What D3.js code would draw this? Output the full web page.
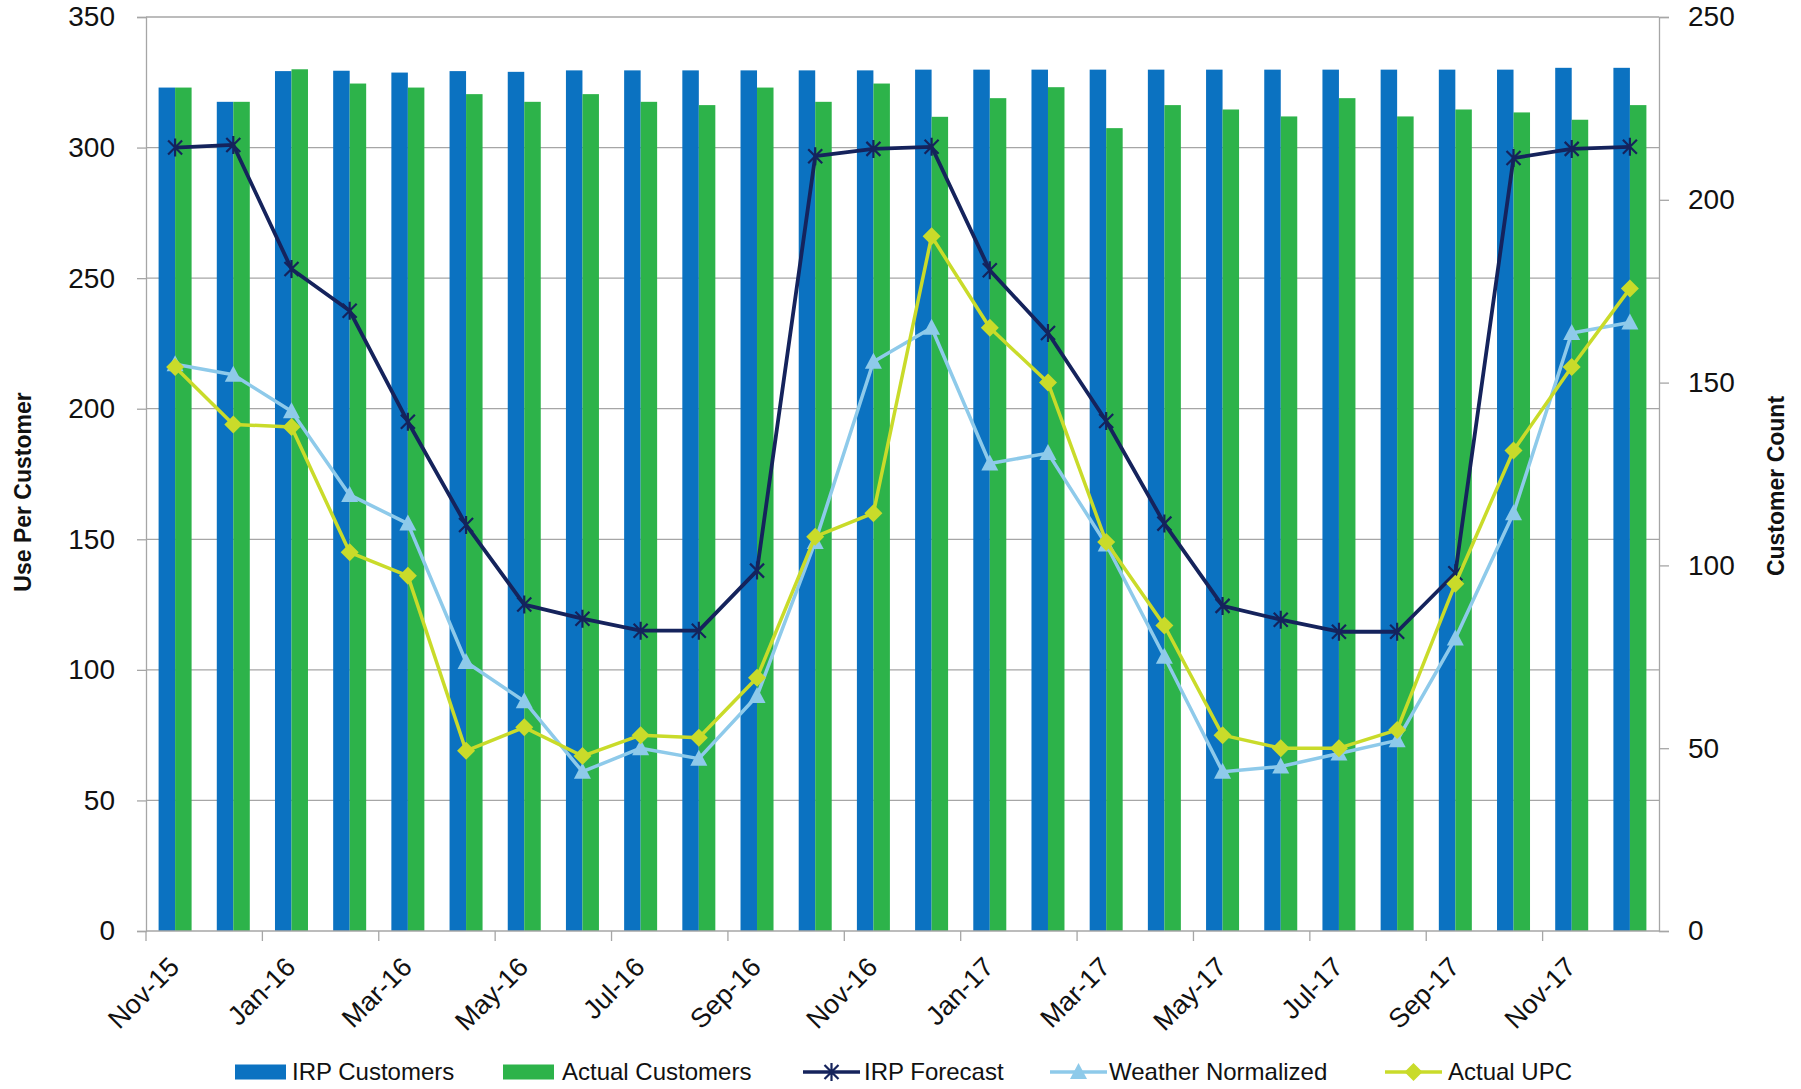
<!DOCTYPE html>
<html>
<head>
<meta charset="utf-8">
<script src="https://cdn.jsdelivr.net/npm/d3@7"></script>
<style>
  html, body { margin: 0; padding: 0; background: #ffffff; }
  svg { display: block; font-family: "Liberation Sans", Arial, sans-serif; }
</style>
</head>
<body>
<svg id="chart" width="1801" height="1089"></svg>
<script>
// ---------------- DATA ----------------
const months = ["Nov-15","Dec-15","Jan-16","Feb-16","Mar-16","Apr-16","May-16","Jun-16","Jul-16","Aug-16","Sep-16","Oct-16",
                "Nov-16","Dec-16","Jan-17","Feb-17","Mar-17","Apr-17","May-17","Jun-17","Jul-17","Aug-17","Sep-17","Oct-17",
                "Nov-17","Dec-17"];
const irpCustomers    = [230.7,226.8,235.2,235.3,234.8,235.2,235.0,235.4,235.4,235.4,235.4,235.4,235.4,235.6,235.6,235.6,235.6,235.6,235.6,235.6,235.6,235.6,235.6,235.6,236.1,236.1];
const actualCustomers = [230.7,226.8,235.7,231.8,230.7,228.9,226.8,228.9,226.8,225.9,230.7,226.8,231.8,222.7,227.8,230.8,219.6,225.9,224.7,222.8,227.8,222.8,224.7,223.9,221.9,225.9];
const irpForecast       = [300,301,253.5,237.5,195,155.5,125,119.6,115,115,138,296.7,299.5,300.3,253,229,195.3,156,124.5,119.2,114.6,114.6,137,296,299.5,300.3];
const weatherNormalized = [217,213,199,167,156,103,88,61,70,66,90,149,218,231,179,183,148,105,61,63,68,73,112,160,229,233];
const actualUPC         = [216,194,193,145,136,69,78,67,75,74,97,151,160,266,231,210,149,117,75,70,70,77,133,184,216,246];
const leftTicks  = [0,50,100,150,200,250,300,350];
const rightTicks = [0,50,100,150,200,250];
const legendItems = ["IRP Customers","Actual Customers","IRP Forecast","Weather Normalized","Actual UPC"];

// ---------------- STYLE / LAYOUT ----------------
const C = { blue:"#0b72c1", green:"#2db34a", navy:"#15235c", light:"#8ecaea", lime:"#c9db2a", grid:"#a6a6a6", text:"#111111" };
const M = { left:146, right:1659, top:17, bottom:931 };

const svg = d3.select("#chart");

const x = d3.scaleBand().domain(months).range([M.left, M.right]).paddingInner(0).paddingOuter(0);
const bw = 16.5;
const yL = d3.scaleLinear().domain([0,350]).range([M.bottom, M.top]);
const yR = d3.scaleLinear().domain([0,250]).range([M.bottom, M.top]);

// gridlines
svg.append("g").selectAll("line").data(leftTicks.filter(d => d>0)).join("line")
  .attr("x1", M.left).attr("x2", M.right)
  .attr("y1", d => yL(d)).attr("y2", d => yL(d))
  .attr("stroke", C.grid).attr("stroke-width", 1.3);

// bars
const cx = d => x(d) + x.bandwidth()/2;
svg.append("g").selectAll("rect").data(months).join("rect")
  .attr("x", d => cx(d) - bw).attr("width", bw)
  .attr("y", (d,i) => yR(irpCustomers[i])).attr("height", (d,i) => M.bottom - yR(irpCustomers[i]))
  .attr("fill", C.blue);
svg.append("g").selectAll("rect").data(months).join("rect")
  .attr("x", d => cx(d)).attr("width", bw)
  .attr("y", (d,i) => yR(actualCustomers[i])).attr("height", (d,i) => M.bottom - yR(actualCustomers[i]))
  .attr("fill", C.green);

// left axis
const axL = svg.append("g").attr("transform", `translate(${M.left},0)`)
  .call(d3.axisLeft(yL).tickValues(leftTicks).tickSize(9).tickPadding(22).tickFormat(d3.format("d")));
axL.select(".domain").attr("stroke", C.grid).attr("stroke-width", 1.3);
axL.selectAll(".tick line").attr("stroke", C.grid).attr("stroke-width", 1.3);
axL.selectAll("text").attr("font-size", 28).attr("fill", C.text).attr("font-family", "Liberation Sans, Arial, sans-serif");

// right axis
const axR = svg.append("g").attr("transform", `translate(${M.right},0)`)
  .call(d3.axisRight(yR).tickValues(rightTicks).tickSize(10).tickPadding(19).tickFormat(d3.format("d")));
axR.select(".domain").attr("stroke", C.grid).attr("stroke-width", 1.3);
axR.selectAll(".tick line").attr("stroke", C.grid).attr("stroke-width", 1.3);
axR.selectAll("text").attr("font-size", 28).attr("fill", C.text).attr("font-family", "Liberation Sans, Arial, sans-serif");

// bottom axis (ticks at every other category boundary)
const axB = svg.append("g").attr("transform", `translate(0,${M.bottom})`);
axB.append("line").attr("x1", M.left).attr("x2", M.right).attr("y1",0).attr("y2",0).attr("stroke", C.grid).attr("stroke-width",1.3);
const tickMonths = months.filter((d,i) => i % 2 === 0);
axB.selectAll("line.t").data(tickMonths).join("line").attr("class","t")
  .attr("x1", d => x(d)).attr("x2", d => x(d)).attr("y1",0).attr("y2",10)
  .attr("stroke", C.grid).attr("stroke-width",1.3);
axB.selectAll("text").data(tickMonths).join("text")
  .attr("transform", d => `translate(${cx(d)-1},${31}) rotate(-45)`)
  .attr("text-anchor","end").attr("dy","0.35em")
  .attr("font-size", 27).attr("fill", C.text)
  .text(d => d);

// lines
const lineGen = (arr) => d3.line().x((d,i) => cx(months[i])).y(d => yL(d))(arr);

// IRP Forecast
svg.append("path").attr("d", lineGen(irpForecast)).attr("fill","none").attr("stroke",C.navy).attr("stroke-width",3.8).attr("stroke-linejoin","round");
const starPath = "M-7,-7L7,7M-7,7L7,-7M0,-9L0,9";
svg.append("g").selectAll("path").data(irpForecast).join("path")
  .attr("transform",(d,i)=>`translate(${cx(months[i])},${yL(d)})`)
  .attr("d", starPath).attr("stroke", C.navy).attr("stroke-width",2.2).attr("fill","none");

// Weather Normalized
svg.append("path").attr("d", lineGen(weatherNormalized)).attr("fill","none").attr("stroke",C.light).attr("stroke-width",3.5).attr("stroke-linejoin","round");
const triPath = "M0,-9L8.5,7L-8.5,7Z";
svg.append("g").selectAll("path").data(weatherNormalized).join("path")
  .attr("transform",(d,i)=>`translate(${cx(months[i])},${yL(d)})`)
  .attr("d", triPath).attr("fill", C.light);

// Actual UPC
svg.append("path").attr("d", lineGen(actualUPC)).attr("fill","none").attr("stroke",C.lime).attr("stroke-width",3.5).attr("stroke-linejoin","round");
const diaPath = "M0,-9L9,0L0,9L-9,0Z";
svg.append("g").selectAll("path").data(actualUPC).join("path")
  .attr("transform",(d,i)=>`translate(${cx(months[i])},${yL(d)})`)
  .attr("d", diaPath).attr("fill", C.lime);

// axis titles
svg.append("text").attr("transform", `translate(31,492) rotate(-90)`)
  .attr("text-anchor","middle").attr("font-size",23).attr("font-weight","bold").attr("fill",C.text)
  .text("Use Per Customer");
svg.append("text").attr("transform", `translate(1784,486) rotate(-90)`)
  .attr("text-anchor","middle").attr("font-size",23).attr("font-weight","bold").attr("fill",C.text)
  .text("Customer Count");

// legend
const legY = 1072;
const legPos = [[235,292],[503,562],[803,864],[1050,1109],[1385,1448]];
const lg = svg.append("g");
legendItems.forEach((name,i) => {
  const [sx, tx] = legPos[i];
  if (i < 2) {
    lg.append("rect").attr("x", sx).attr("y", legY-7.5).attr("width", 51).attr("height", 15).attr("fill", i===0?C.blue:C.green);
  } else {
    const col = [C.navy, C.light, C.lime][i-2];
    lg.append("line").attr("x1", sx).attr("x2", sx+57).attr("y1", legY).attr("y2", legY).attr("stroke", col).attr("stroke-width",3.5);
    const mx = sx + 28.5;
    if (i===2) lg.append("path").attr("transform",`translate(${mx},${legY})`).attr("d",starPath).attr("stroke",col).attr("stroke-width",2.2);
    if (i===3) lg.append("path").attr("transform",`translate(${mx},${legY})`).attr("d",triPath).attr("fill",col);
    if (i===4) lg.append("path").attr("transform",`translate(${mx},${legY})`).attr("d",diaPath).attr("fill",col);
  }
  lg.append("text").attr("x", tx).attr("y", legY).attr("dy","0.35em").attr("font-size",24).attr("fill",C.text).text(name);
});
</script>
</body>
</html>
